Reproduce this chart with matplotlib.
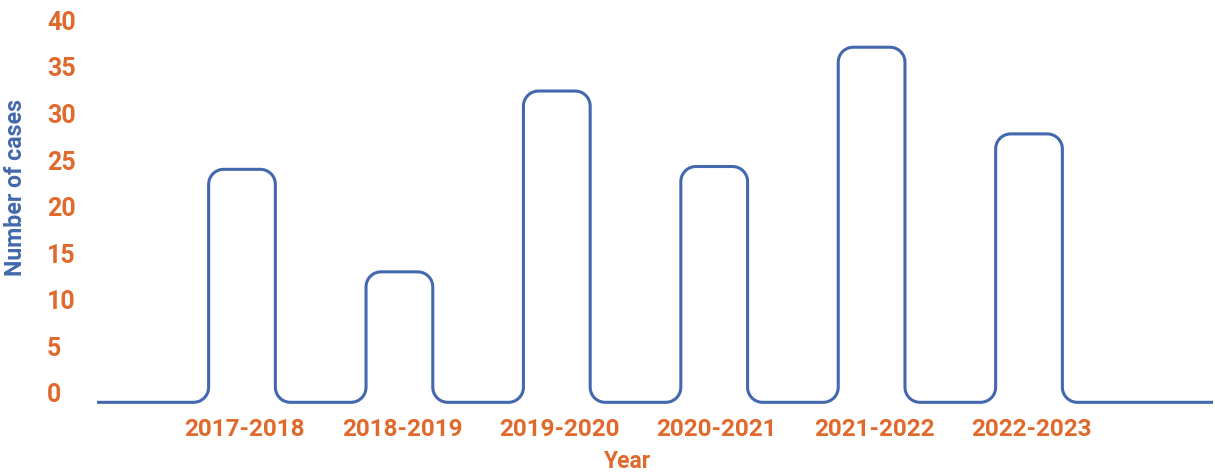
import numpy as np
import matplotlib
matplotlib.use("Agg")
from matplotlib import pyplot as plt
from matplotlib.transforms import ScaledTranslation

years = ["2017-2018", "2018-2019", "2019-2020", "2020-2021", "2021-2022", "2022-2023"]
cases = [24, 13, 32.4, 24.3, 37.1, 27.8]
yticks = [0, 5, 10, 15, 20, 25, 30, 35, 40]

BLUE = "#4368AD"
ORANGE = "#E0692B"

plt.rcParams["font.family"] = ["Roboto", "DejaVu Sans"]
plt.rcParams["font.weight"] = "bold"


def corner(cx, cy, rx, ry, a0, a1, n=12):
    t = np.linspace(np.radians(a0), np.radians(a1), n)
    return list(cx + rx * np.cos(t)), list(cy + ry * np.sin(t))


def rounded_steps(values, base, hw, rx, ry, x0, x1):
    xs, ys = [x0], [base]
    for i, v in enumerate(values):
        l, r = i - hw, i + hw
        cx, cy = corner(l - rx, base + ry, rx, ry, -90, 0)
        xs += cx; ys += cy
        cx, cy = corner(l + rx, v - ry, rx, ry, 180, 90)
        xs += cx; ys += cy
        cx, cy = corner(r - rx, v - ry, rx, ry, 90, 0)
        xs += cx; ys += cy
        cx, cy = corner(r + rx, base + ry, rx, ry, 180, 270)
        xs += cx; ys += cy
    xs.append(x1); ys.append(base)
    return xs, ys


fig = plt.figure(figsize=(12.15, 4.75), dpi=100)
# axes in pixels: left 90, right 1215, bottom 410, top 10
ax = fig.add_axes([90 / 1215, 65 / 475, 1125 / 1215, 400 / 475])

step = 157.4   # px per category
unit = 9.32    # px per case
xs, ys = rounded_steps(cases, -1.0, 0.212, 15 / step, 15 / unit, -0.921, 6.169)
ax.plot(xs, ys, color=BLUE, lw=2.2, solid_capstyle="butt")

ax.set_xlim((90 - 242) / step, (1215 - 242) / step)
ax.set_ylim(-17 / unit, 383 / unit)

ax.set_xticks(range(len(years)))
ax.set_xticklabels(years)
ax.set_yticks(yticks)
for s in ax.spines.values():
    s.set_visible(False)
ax.tick_params(axis="both", length=0, labelsize=18, labelcolor=ORANGE)
ax.tick_params(axis="x", pad=6, labelsize=17.5)
ax.tick_params(axis="y", pad=31)
for t in ax.get_yticklabels():
    t.set_horizontalalignment("left")
    t.set_fontweight("bold")
shift = ScaledTranslation(2.5 / 100, 0, fig.dpi_scale_trans)
for t in ax.get_xticklabels():
    t.set_fontweight("bold")
    t.set_transform(t.get_transform() + shift)

fig.text(628 / 1215, 1 - 462 / 475, "Year", color=ORANGE, fontsize=16.5,
         fontweight="bold", ha="center", va="center")
fig.text(16 / 1215, 1 - 187 / 475, "Number of cases", color=BLUE, fontsize=16.7,
         fontweight="bold", ha="center", va="center", rotation=90)

fig.savefig("out.png", dpi=100)
